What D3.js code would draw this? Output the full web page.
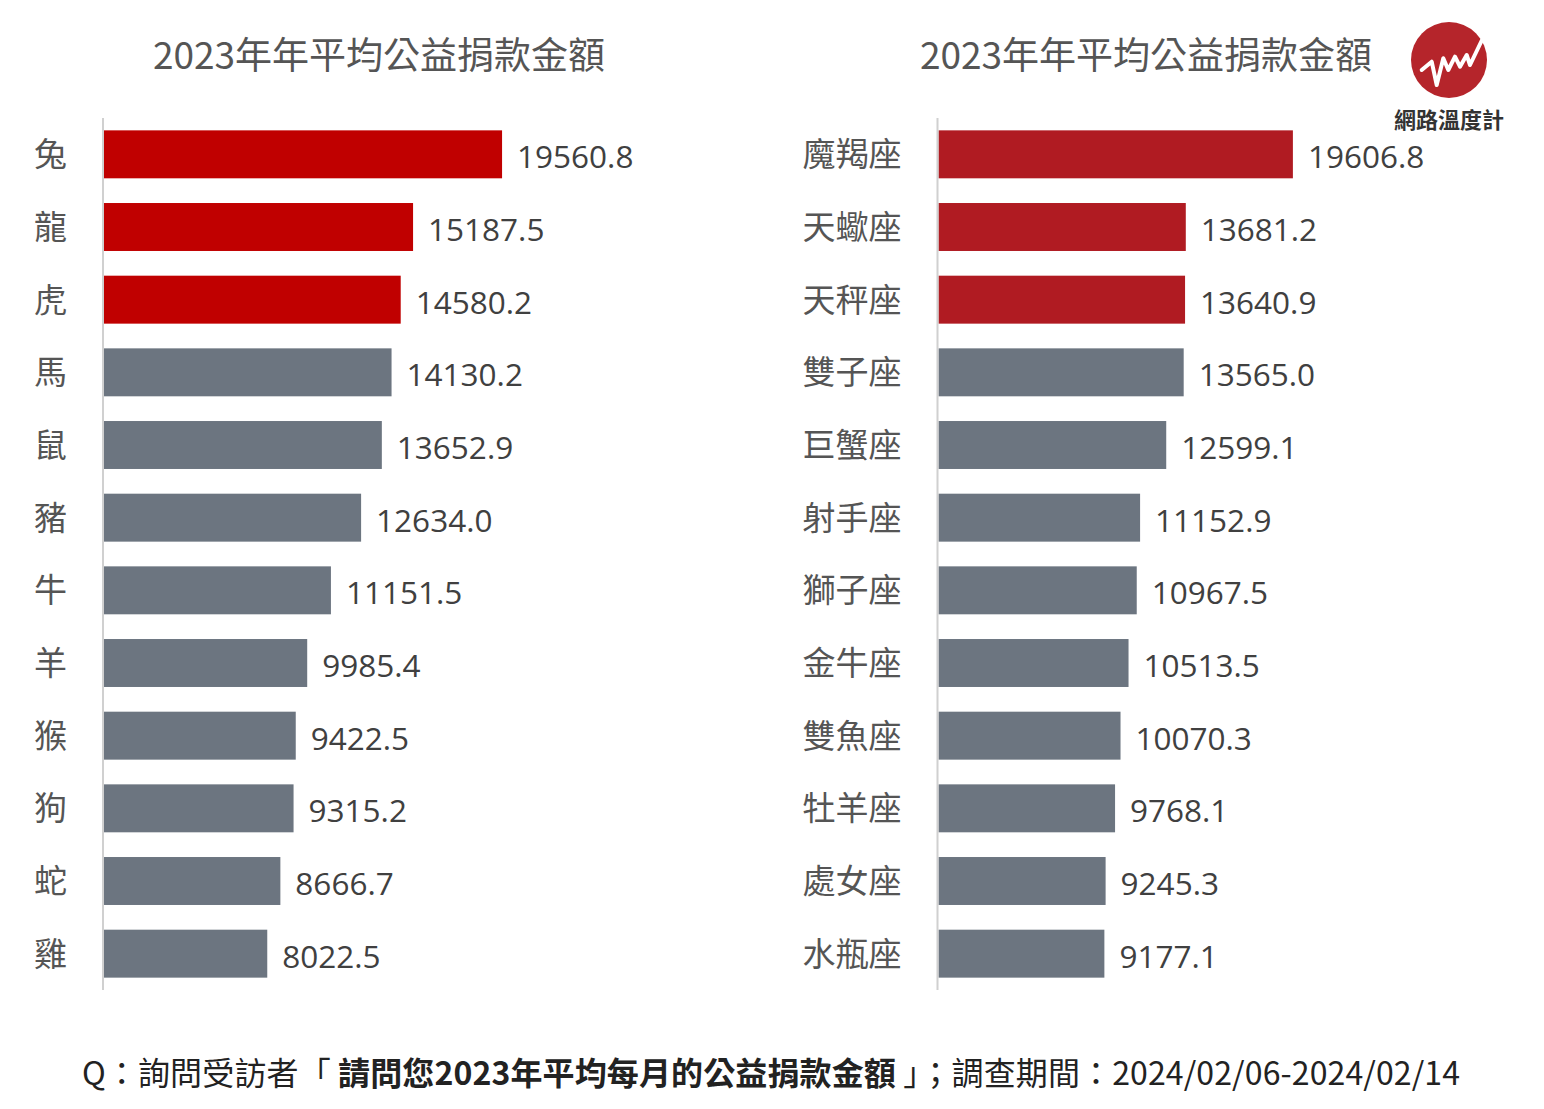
<!DOCTYPE html>
<html><head><meta charset="utf-8">
<script src="https://cdn.jsdelivr.net/npm/d3@7"></script>
<style>body{margin:0;background:#fff}svg{display:block}</style>
</head><body>
<script>
const title = "2023年年平均公益捐款金額";
const zodiac = ["兔","龍","虎","馬","鼠","豬","牛","羊","猴","狗","蛇","雞"];
const zodiacValues = [19560.8,15187.5,14580.2,14130.2,13652.9,12634.0,11151.5,9985.4,9422.5,9315.2,8666.7,8022.5];
const signs = ["魔羯座","天蠍座","天秤座","雙子座","巨蟹座","射手座","獅子座","金牛座","雙魚座","牡羊座","處女座","水瓶座"];
const signValues = [19606.8,13681.2,13640.9,13565.0,12599.1,11152.9,10967.5,10513.5,10070.3,9768.1,9245.3,9177.1];

const W = 1544, H = 1109;
const svg = d3.select("body").append("svg").attr("width", W).attr("height", H);
const cjk = "'Noto Sans CJK TC','Noto Sans CJK SC',sans-serif";
const num = "'Open Sans','Noto Sans',sans-serif";
const gray = "#6c7580";

function panel(cats, vals, axisX, xr, red, titleX) {
  const g = svg.append("g");
  const y = d3.scaleBand().domain(cats).range([118, 990]).paddingInner(0.34).paddingOuter(0.17);
  const x = d3.scaleLinear().domain([0, 20000]).range([axisX + 1, axisX + 1 + xr]);
  g.append("text").attr("x", titleX).attr("y", 69).attr("text-anchor", "middle")
    .attr("font-family", cjk).attr("font-size", 37).attr("fill", "#555").text(title);
  g.selectAll("rect").data(vals).join("rect")
    .attr("x", x(0)).attr("y", (d, i) => y(cats[i]))
    .attr("width", d => x(d) - x(0)).attr("height", y.bandwidth())
    .attr("fill", (d, i) => i < 3 ? red : gray);
  g.append("line").attr("x1", axisX).attr("x2", axisX).attr("y1", 118).attr("y2", 990)
    .attr("stroke", "#d0d0d0").attr("stroke-width", 2);
  g.selectAll("text.cat").data(cats).join("text").attr("class", "cat")
    .attr("x", axisX - 36).attr("y", d => y(d) + y.bandwidth() / 2 + 12)
    .attr("text-anchor", "end").attr("font-family", cjk).attr("font-size", 33)
    .attr("fill", "#555").text(d => d);
  g.selectAll("text.val").data(vals).join("text").attr("class", "val")
    .attr("x", d => x(d) + 15).attr("y", (d, i) => y(cats[i]) + y.bandwidth() / 2 + 14)
    .attr("font-family", num).attr("font-size", 31.5).attr("fill", "#404040")
    .text(d => d.toFixed(1));
}
panel(zodiac, zodiacValues, 103, 407, "#c00000", 379);
panel(signs, signValues, 937.5, 361.5, "#b01b22", 1146);

// footer
const ft = svg.append("text").attr("x", 82).attr("y", 1085)
  .attr("font-family", cjk).attr("font-size", 32).attr("fill", "#222")
  .attr("textLength", 1378).attr("lengthAdjust", "spacing");
ft.append("tspan").text("Q：詢問受訪者「 ");
ft.append("tspan").attr("font-weight", "bold").text("請問您2023年平均每月的公益捐款金額");
ft.append("tspan").text(" 」；調查期間：2024/02/06-2024/02/14");

// logo
const logo = svg.append("g");
logo.append("circle").attr("cx", 1449).attr("cy", 60).attr("r", 38).attr("fill", "#b5252b");
const zz = [[1421.7,70],[1431.7,61.7],[1436.7,85],[1443.3,58.3],[1448.3,70],[1455,56.7],[1460,66.7],[1466.7,55],[1470,65],[1482,40]];
logo.append("path").attr("d", d3.line()(zz)).attr("fill", "none").attr("stroke", "#fff")
  .attr("stroke-width", 4).attr("stroke-linejoin", "round").attr("stroke-linecap", "round");
logo.append("text").attr("x", 1449).attr("y", 128).attr("text-anchor", "middle")
  .attr("font-family", cjk).attr("font-size", 22).attr("font-weight", "bold").attr("fill", "#333").text("網路溫度計");
</script>
</body></html>
